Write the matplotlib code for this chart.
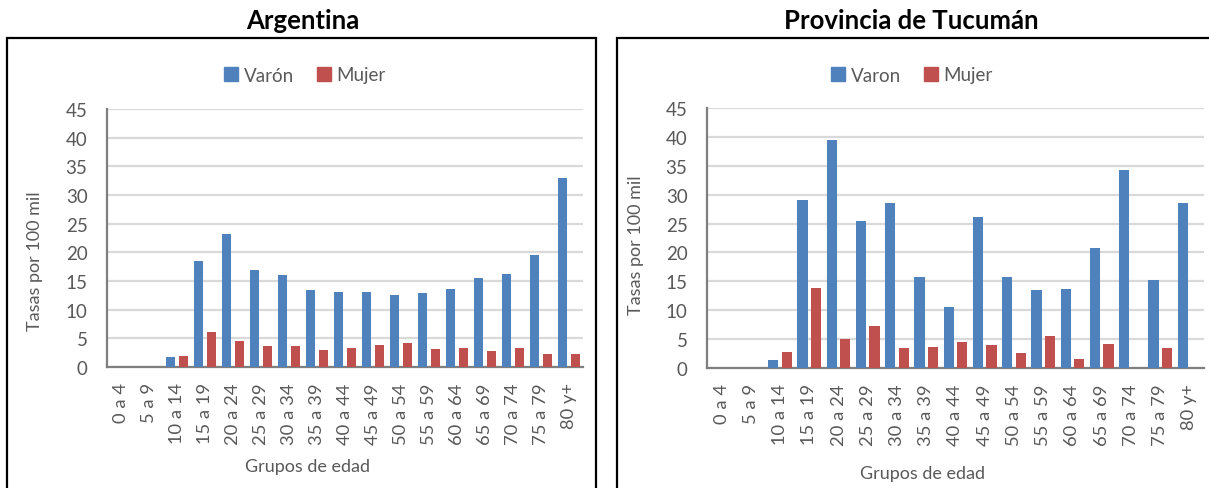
import matplotlib.pyplot as plt
from matplotlib.patches import Rectangle, Patch

plt.rcParams['font.family'] = ['Lato', 'DejaVu Sans']

grupos = ["0 a 4", "5 a 9", "10 a 14", "15 a 19", "20 a 24", "25 a 29", "30 a 34",
          "35 a 39", "40 a 44", "45 a 49", "50 a 54", "55 a 59", "60 a 64",
          "65 a 69", "70 a 74", "75 a 79", "80 y+"]

# Argentina
arg_varon = [0, 0, 1.7, 18.5, 23.2, 17.0, 16.0, 13.5, 13.1, 13.0, 12.6, 12.9,
             13.6, 15.5, 16.2, 19.6, 32.9]
arg_mujer = [0, 0, 2.0, 6.1, 4.6, 3.7, 3.6, 2.9, 3.4, 3.8, 4.1, 3.2,
             3.4, 2.8, 3.3, 2.3, 2.3]

# Provincia de Tucumán
tuc_varon = [0, 0, 1.3, 29.0, 39.4, 25.4, 28.5, 15.8, 10.6, 26.1, 15.8, 13.5,
             13.7, 20.7, 34.2, 15.3, 28.6]
tuc_mujer = [0, 0, 2.8, 13.8, 5.0, 7.3, 3.4, 3.6, 4.5, 3.9, 2.6, 5.5,
             1.6, 4.1, 0, 3.5, 0]

AZUL = "#4F81BD"
ROJO = "#C0504D"
GRIS = "#595959"

W, H = 1209, 489
fig = plt.figure(figsize=(W / 100, H / 100), dpi=100)


def px_axes(x0, y0, x1, y1):
    # caja en pixeles (origen arriba a la izquierda) -> fraccion de figura
    return [x0 / W, 1 - y1 / H, (x1 - x0) / W, (y1 - y0) / H]


def panel(rect, varon, mujer, etiquetas, ylab_y, xlab_pos, leg_x, ylab_x):
    ax = fig.add_axes(rect)
    x = list(range(len(grupos)))
    ax.bar([i - 0.23 for i in x], varon, width=0.35, color=AZUL, zorder=3)
    ax.bar([i + 0.23 for i in x], mujer, width=0.35, color=ROJO, zorder=3)
    ax.set_xlim(-0.5, len(grupos) - 0.5)
    ax.set_ylim(0, 45)
    ax.set_yticks(range(0, 46, 5))
    ax.set_xticks(x)
    ax.set_xticklabels(grupos, rotation=90)
    ax.grid(axis='y', color='#D9D9D9', linewidth=1.6, zorder=0)
    for s in ['top', 'right']:
        ax.spines[s].set_visible(False)
    for s in ['left', 'bottom']:
        ax.spines[s].set_color('#7F7F7F')
        ax.spines[s].set_linewidth(1.6)
    ax.tick_params(axis='y', length=0, pad=14, labelsize=13.5, labelcolor=GRIS)
    ax.tick_params(axis='x', length=0, pad=11, labelsize=13.2, labelcolor=GRIS)
    ax.text(ylab_x, ylab_y, "Tasas por 100 mil", transform=ax.transAxes,
            rotation=90, ha='center', va='center', fontsize=13, color=GRIS)
    ax.text(xlab_pos[0], xlab_pos[1], "Grupos de edad", transform=ax.transAxes,
            ha='center', va='center', fontsize=13, color=GRIS)
    handles = [Patch(color=AZUL, label=etiquetas[0]), Patch(color=ROJO, label=etiquetas[1])]
    fig.legend(handles=handles, loc='center', bbox_to_anchor=(leg_x / W, 1 - 76 / H),
               ncol=2, frameon=False, fontsize=13.5, labelcolor=GRIS,
               handlelength=0.75, handleheight=0.75, handletextpad=0.3,
               columnspacing=1.2)
    return ax


panel(px_axes(107, 110, 583, 368), arg_varon, arg_mujer, ["Varón", "Mujer"],
      0.415, (0.422, -0.384), 305, -0.152)
panel(px_axes(707, 109, 1204, 369), tuc_varon, tuc_mujer, ["Varon", "Mujer"],
      0.477, (0.433, -0.404), 912, -0.143)

fig.text(303 / W, 1 - 21 / H, "Argentina", ha='center', va='center',
         fontsize=18.5, fontweight='bold', color='black')
fig.text(911 / W, 1 - 21 / H, "Provincia de Tucumán", ha='center', va='center',
         fontsize=18.5, fontweight='bold', color='black')

# marcos de cada panel
fig.patches.append(Rectangle((7 / W, -0.05), 589 / W, 1 - 39 / H + 0.05,
                             transform=fig.transFigure, fill=False,
                             edgecolor='black', linewidth=1.6))
fig.patches.append(Rectangle((617 / W, -0.05), 0.5, 1 - 39 / H + 0.05,
                             transform=fig.transFigure, fill=False,
                             edgecolor='black', linewidth=1.6))

fig.savefig("out.png", dpi=100)
